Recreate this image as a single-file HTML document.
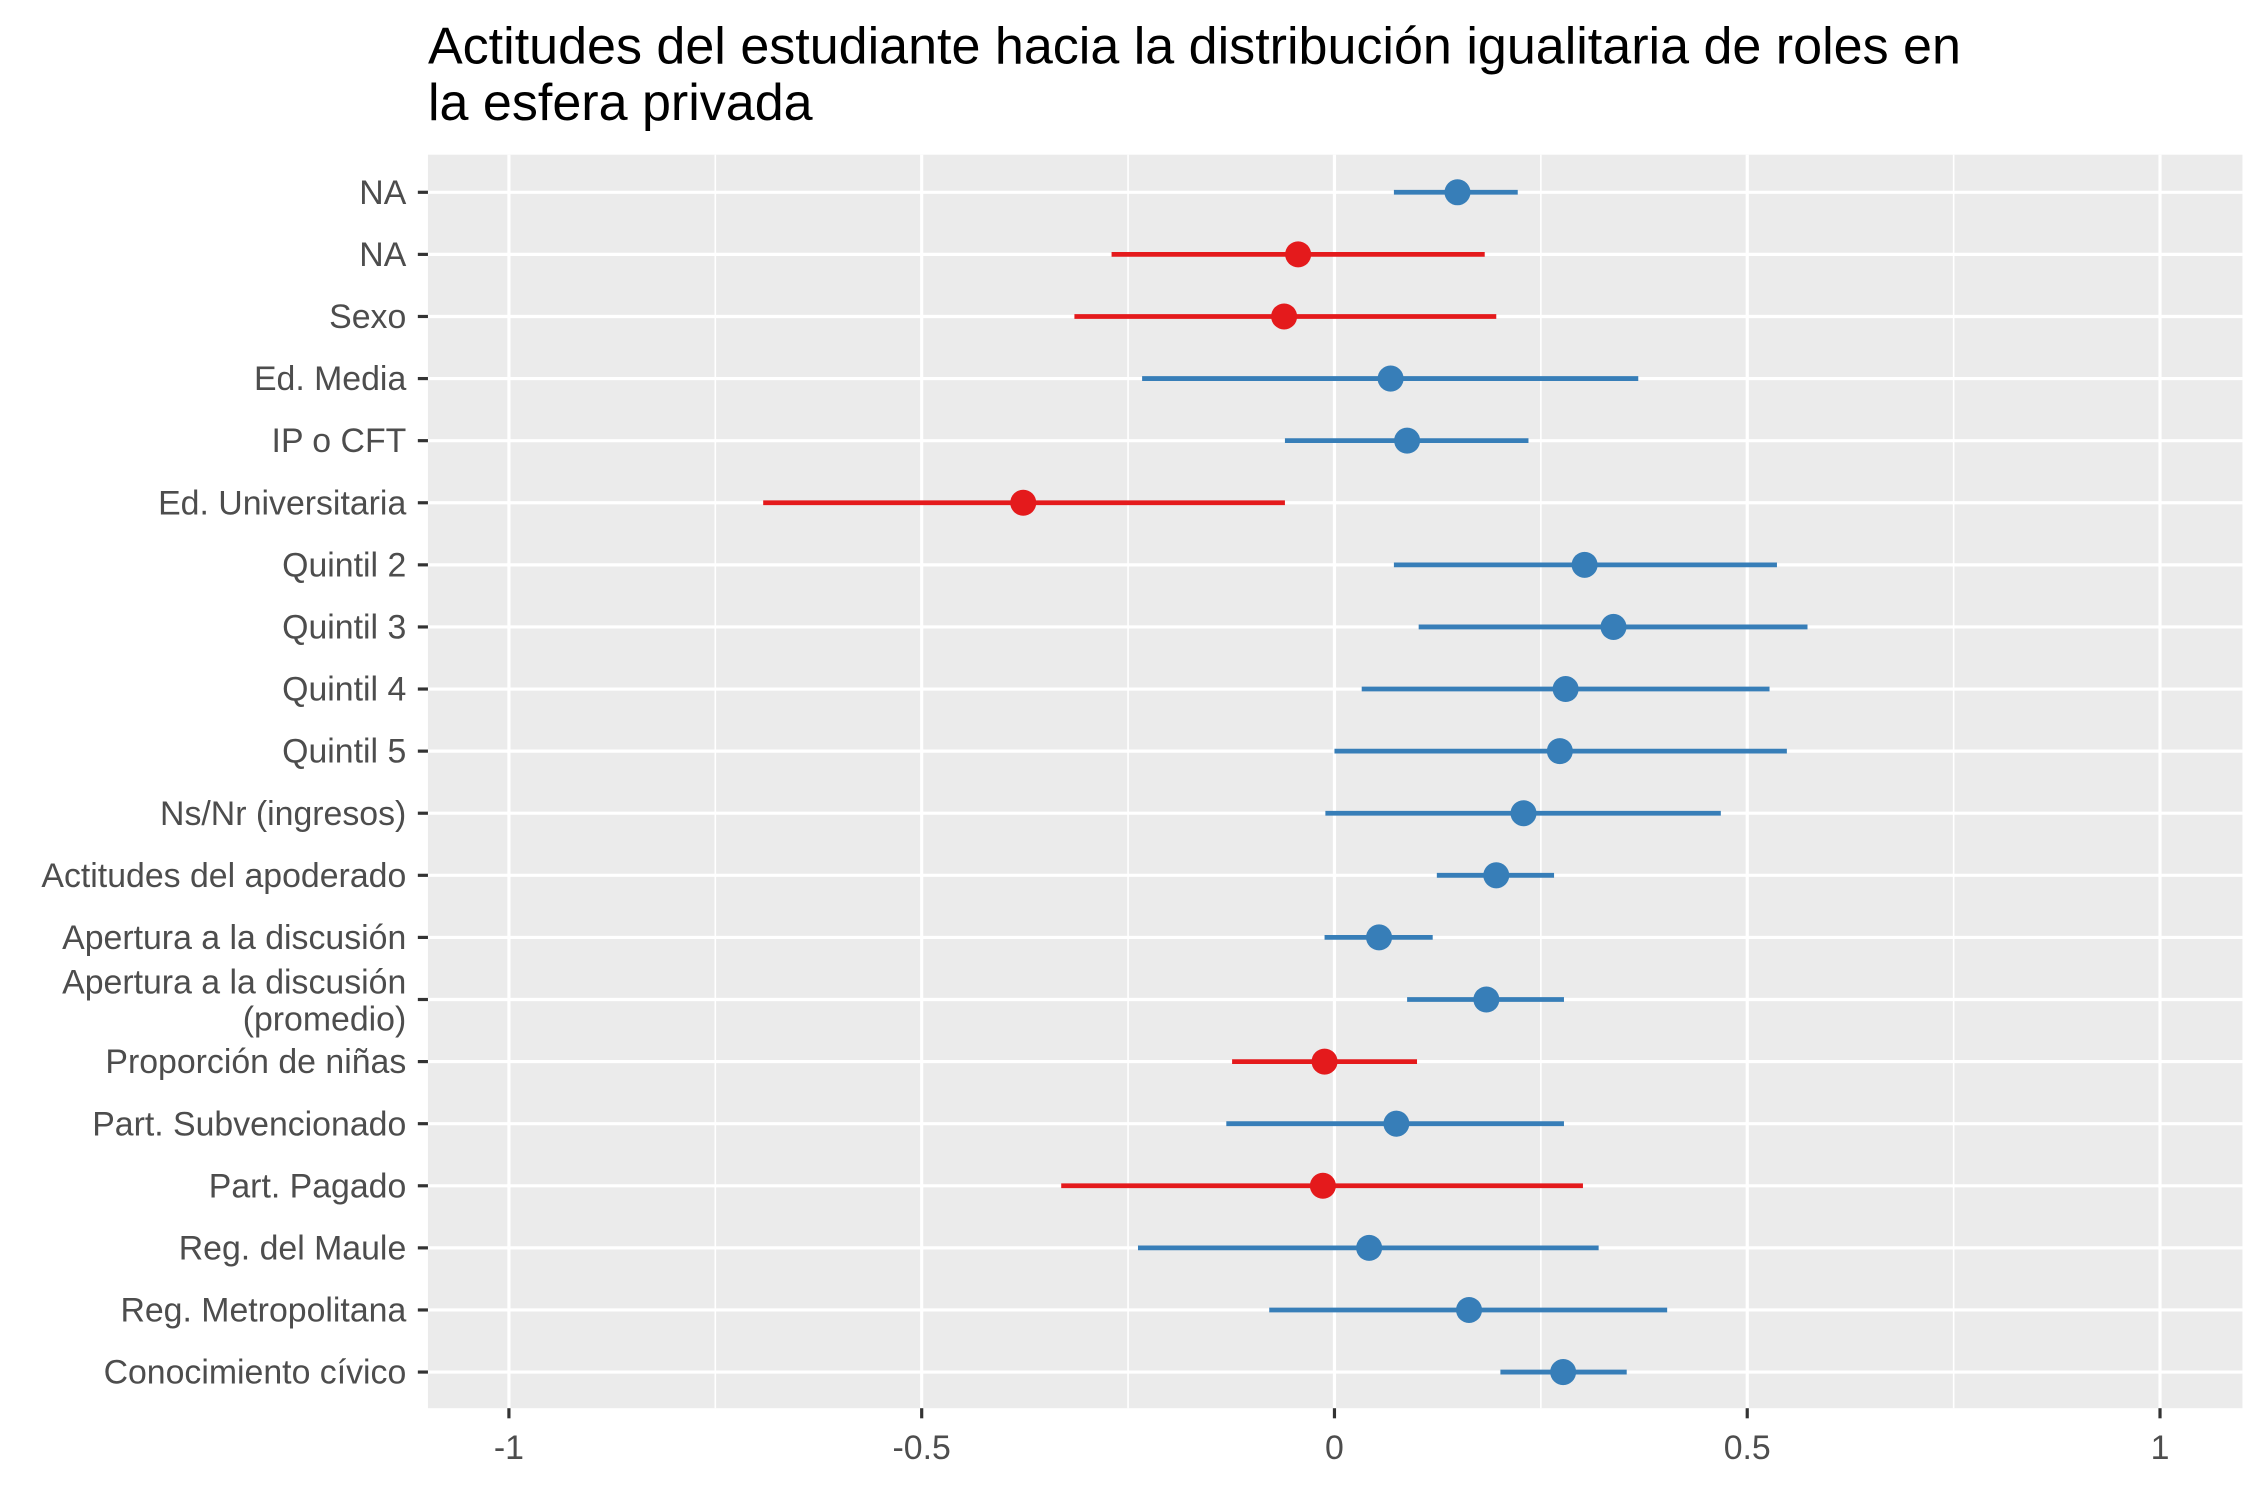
<!DOCTYPE html>
<html><head><meta charset="utf-8">
<style>html,body{margin:0;padding:0;background:#fff;}svg{display:block;}</style>
</head><body>
<svg id="chart" width="2267" height="1511" viewBox="0 0 1568 1045.1" xmlns="http://www.w3.org/2000/svg" font-family="Liberation Sans, Arial, sans-serif">
<rect width="1568" height="1045.1" fill="#fff"/>
<text x="296" y="44" font-size="36" fill="#000">Actitudes del estudiante hacia la distribución igualitaria de roles en</text>
<text x="296" y="83" font-size="36" fill="#000">la esfera privada</text>
<rect x="296" y="107" width="1255" height="867" fill="#EBEBEB"/>
<g id="grid"></g>
<g id="yaxis"></g>
<g id="xaxis"></g>
<g id="marks"></g>
</svg>
<script>
const categories = ["NA","NA","Sexo","Ed. Media","IP o CFT","Ed. Universitaria","Quintil 2","Quintil 3","Quintil 4","Quintil 5","Ns/Nr (ingresos)","Actitudes del apoderado","Apertura a la discusión","Apertura a la discusión\n(promedio)","Proporción de niñas","Part. Subvencionado","Part. Pagado","Reg. del Maule","Reg. Metropolitana","Conocimiento cívico"];
const estimates = [0.149,-0.044,-0.061,0.068,0.088,-0.377,0.303,0.338,0.280,0.273,0.229,0.196,0.054,0.184,-0.012,0.075,-0.014,0.042,0.163,0.277];
const lowerCI = [0.072,-0.270,-0.315,-0.233,-0.060,-0.692,0.072,0.102,0.033,0.000,-0.011,0.124,-0.012,0.088,-0.124,-0.131,-0.331,-0.238,-0.079,0.201];
const upperCI = [0.222,0.182,0.196,0.368,0.235,-0.060,0.536,0.573,0.527,0.548,0.468,0.266,0.119,0.278,0.100,0.278,0.301,0.320,0.403,0.354];
const xTicks = [-1,-0.5,0,0.5,1];
const xTickLabels = ["-1","-0.5","0","0.5","1"];
const xMinor = [-0.75,-0.25,0.25,0.75];

const NS="http://www.w3.org/2000/svg";
const x = v => 923 + v*571;
const y = i => 133 + i*(949-133)/(categories.length-1);
function mk(tag, attrs, parent){const e=document.createElementNS(NS,tag);for(const k in attrs)e.setAttribute(k,attrs[k]);parent.appendChild(e);return e;}
const grid=document.getElementById('grid'), ya=document.getElementById('yaxis'), xa=document.getElementById('xaxis'), marks=document.getElementById('marks');
xMinor.forEach(v=>{const l=mk('line',{x1:x(v),x2:x(v),y1:107,y2:974,stroke:'#fff','stroke-width':1.1},grid);

});
xTicks.forEach((v,i)=>{const l=mk('line',{x1:x(v),x2:x(v),y1:107,y2:974,stroke:'#fff','stroke-width':2.2},grid);


const t=mk('line',{x1:x(v),x2:x(v),y1:974,y2:981,stroke:'#333','stroke-width':2.2},xa);


const tx=mk('text',{x:x(v),y:1009,'text-anchor':'middle','font-size':23.4,fill:'#4D4D4D'},xa);
tx.textContent=xTickLabels[i];

});
categories.forEach((c,i)=>{const yy=y(i);
const g=mk('line',{x1:296,x2:1551,y1:yy,y2:yy,stroke:'#fff','stroke-width':2.2},grid);


const t=mk('line',{x1:289,x2:296,y1:yy,y2:yy,stroke:'#333','stroke-width':2.2},ya);


const lines=c.split('\n');
const tx=mk('text',{x:281,'text-anchor':'end','font-size':23.4,fill:'#4D4D4D'},ya);


if(lines.length===1){tx.setAttribute('y',yy+8);tx.textContent=c;}
else{lines.forEach((s,k)=>{const sp=mk('tspan',{x:281,y:yy-4+k*25.5},tx);sp.textContent=s;});}
const col = estimates[i]<0 ? '#E41A1C' : '#377EB8';
const ln=mk('line',{x1:x(lowerCI[i]),x2:x(upperCI[i]),y1:yy,y2:yy,stroke:col,'stroke-width':3.3},marks);


const pt=mk('circle',{cx:x(estimates[i]),cy:yy,r:9,fill:col},marks);


});
</script>
</body></html>
